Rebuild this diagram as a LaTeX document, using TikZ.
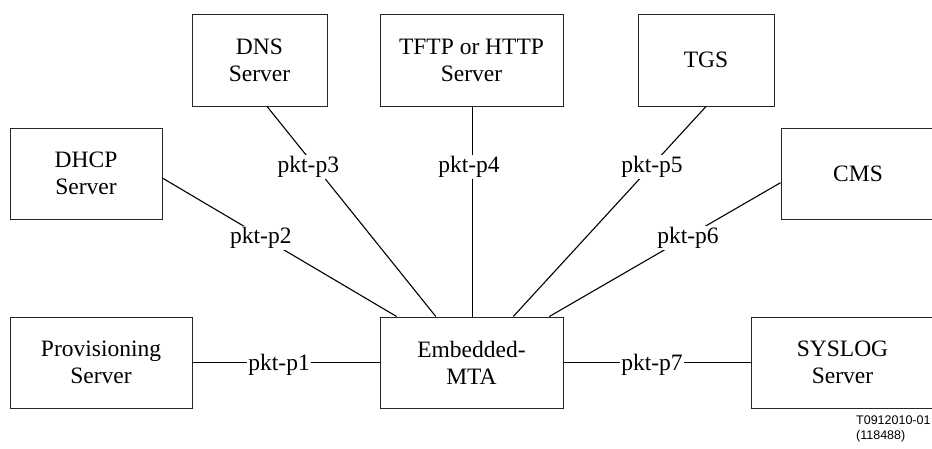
\documentclass[tikz,border=0pt]{standalone}
\usepackage{fontspec}
\setmainfont{Liberation Serif}
\newfontfamily\refsans{Liberation Sans}
\usetikzlibrary{calc}
\begin{document}
\begin{tikzpicture}[x=1pt,y=-1pt,
  srvbox/.style={draw=black!85, line width=1pt, inner sep=0pt, align=center,
    font=\fontsize{23.5}{27}\selectfont},
  conn/.style={draw=black, line width=1.1pt},
  lbl/.style={fill=white, inner sep=1.2pt, font=\fontsize{23.5}{27}\selectfont}]
\useasboundingbox (0,0) rectangle (932,448);
\clip (0,0) rectangle (932,448);
% boxes
\node[srvbox, minimum width=135pt, minimum height=92pt] (dns) at (259.5,60) {DNS\\Server};
\node[srvbox, minimum width=183pt, minimum height=92pt] (tftp) at (471.5,60) {TFTP or HTTP\\Server};
\node[srvbox, minimum width=136pt, minimum height=92pt] (tgs) at (706,60) {TGS};
\node[srvbox, minimum width=152pt, minimum height=91pt] (dhcp) at (86,173.5) {DHCP\\Server};
\node[srvbox, minimum width=154pt, minimum height=91pt] (cms) at (858,173.5) {CMS};
\node[srvbox, minimum width=182pt, minimum height=91pt] (prov) at (101,362.5) {Provisioning\\Server};
\node[srvbox, minimum width=183pt, minimum height=91pt] (mta) at (471.5,362.5) {Embedded-\\MTA};
\node[srvbox, minimum width=183pt, minimum height=91pt] (sys) at (842.5,362.5) {SYSLOG\\Server};
% connectors
\draw[conn] ($(dhcp.north east)!0.55!(dhcp.south east)$) -- node[lbl, pos=0.42, yshift=-2pt] (l2) {pkt-p2} ($(mta.north west)!0.093!(mta.north east)$);
\draw[conn] ($(dns.south west)!0.556!(dns.south east)$) -- node[lbl, pos=0.28, xshift=-6pt, yshift=-2pt] (l3) {pkt-p3} ($(mta.north west)!0.306!(mta.north east)$);
\draw[conn] ($(tftp.south west)!0.503!(tftp.south east)$) -- node[lbl, pos=0.28, xshift=-3pt, yshift=-2pt] (l4) {pkt-p4} ($(mta.north west)!0.503!(mta.north east)$);
\draw[conn] (tgs.south) -- node[lbl, pos=0.28, yshift=-2pt] (l5) {pkt-p5} ($(mta.north west)!0.727!(mta.north east)$);
\draw[conn] ($(cms.north west)!0.6!(cms.south west)$) -- node[lbl, pos=0.40, yshift=-2pt] (l6) {pkt-p6} ($(mta.north west)!0.923!(mta.north east)$);
\draw[conn] (prov.east) -- node[lbl, pos=0.463, yshift=-2pt] (l1) {pkt-p1} (mta.west);
\draw[conn] (mta.east) -- node[lbl, pos=0.473, yshift=-2pt] (l7) {pkt-p7} (sys.west);
% reference
\node[anchor=base west, inner sep=0pt, align=left, font=\refsans\fontsize{12.5}{14.5}\selectfont] (ref) at (856,439) {T0912010-01\\(118488)};
\end{tikzpicture}
\end{document}
